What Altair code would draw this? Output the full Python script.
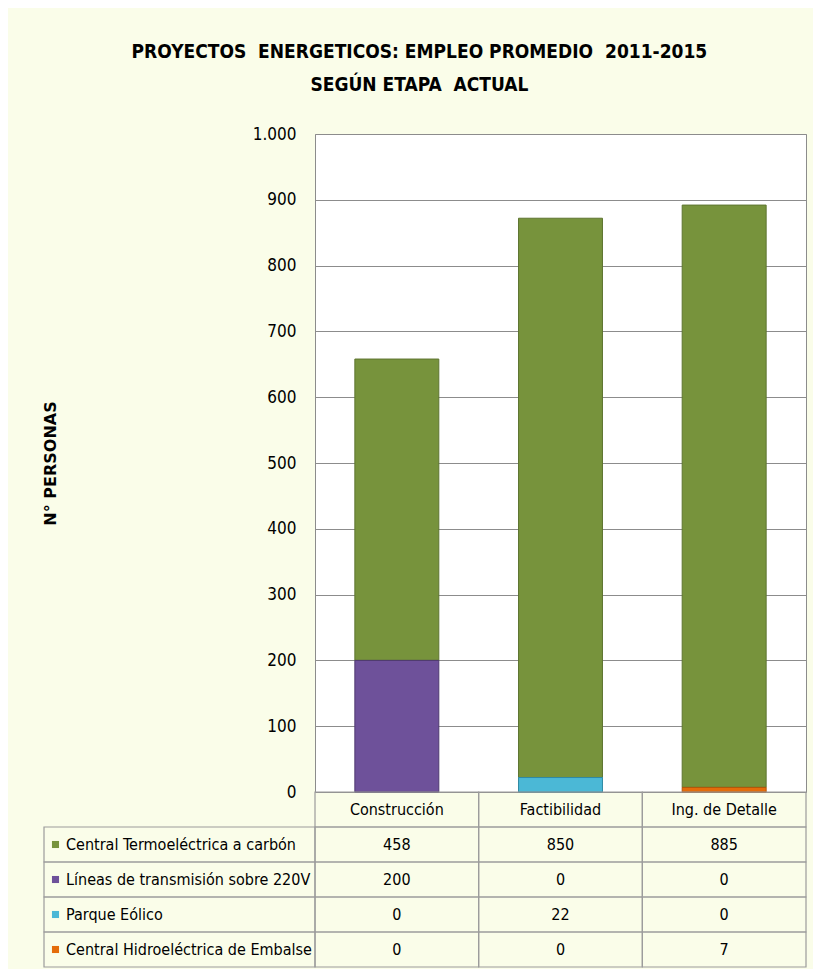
import altair as alt
import pandas as pd

# ---------------- data ----------------
stages = ["Construcción", "Factibilidad", "Ing. de Detalle"]
series = [
    "Central Termoeléctrica a carbón",
    "Líneas de transmisión sobre 220V",
    "Parque Eólico",
    "Central Hidroeléctrica de Embalse",
]
termo = [458, 850, 885]
lineas = [200, 0, 0]
eolico = [0, 22, 0]
hidro = [0, 0, 7]
y_ticks = [0, 100, 200, 300, 400, 500, 600, 700, 800, 900, 1000]
title_lines = ["PROYECTOS \u00a0ENERGETICOS: EMPLEO PROMEDIO \u00a02011-2015", "SEGÚN ETAPA \u00a0ACTUAL"]
y_title = "N° PERSONAS"

fill_colors = ["#77933C", "#6E519A", "#4BB8D6", "#E46C0A"]
edge_colors = ["#5E7530", "#4E3970", "#2F8AA3", "#B35508"]

# ---------------- tables ----------------
values = [termo, lineas, eolico, hidro]
records = []
for i, (s, vals) in enumerate(zip(series, values)):
    for st, v in zip(stages, vals):
        records.append({"serie": s, "etapa": st, "valor": v, "pila": len(series) - 1 - i})
df = pd.DataFrame(records)

cells = [{"fila": "_h", "etapa": st, "texto": st} for st in stages]
for s, vals in zip(series, values):
    for st, v in zip(stages, vals):
        cells.append({"fila": s, "etapa": st, "texto": str(v)})
cells_df = pd.DataFrame(cells)
labels_df = pd.DataFrame({"fila": series, "col": ["serie"] * len(series)})

# ---------------- style ----------------
FONT = "DejaVu Sans Condensed"
GRID = "#8C8C8C"
LINE = "#9C9C9C"
BG = "#FAFDE9"
PLOT_W = 491
PLOT_H = 658
ROW_H = 35
LAB_W = 271

# ---------------- bar chart ----------------
bars = (
    alt.Chart(df)
    .transform_filter("datum.valor > 0")
    .mark_bar(strokeWidth=1)
    .encode(
        x=alt.X("etapa:N", scale=alt.Scale(domain=stages, paddingInner=0.487, paddingOuter=0.2435), axis=None),
        y=alt.Y(
            "valor:Q",
            stack="zero",
            scale=alt.Scale(domain=[0, 1000], nice=False),
            axis=alt.Axis(
                values=y_ticks,
                labelExpr="replace(format(datum.value, ','), ',', '.')",
                labelFont=FONT,
                labelFontSize=17,
                labelColor="#000000",
                labelPadding=19,
                ticks=False,
                domain=False,
                grid=True,
                gridColor=GRID,
                gridWidth=1,
                gridOpacity=1,
                title=y_title,
                titleFont="DejaVu Sans",
                titleFontSize=16,
                titleFontWeight="bold",
                titleColor="#000000",
                titlePadding=194,
            ),
        ),
        color=alt.Color("serie:N", scale=alt.Scale(domain=series, range=fill_colors), legend=None),
        stroke=alt.Stroke("serie:N", scale=alt.Scale(domain=series, range=edge_colors), legend=None),
        order=alt.Order("pila:Q"),
    )
    .properties(width=PLOT_W, height=PLOT_H, view=alt.ViewBackground(fill="white", stroke=GRID))
)

# ---------------- data table ----------------
row_domain = ["_h"] + series
y_row = alt.Y("fila:N", scale=alt.Scale(domain=row_domain, paddingInner=0, paddingOuter=0), axis=None)
x_stage = alt.X("etapa:N", scale=alt.Scale(domain=stages, paddingInner=0, paddingOuter=0), axis=None)
x_lab = alt.X("col:N", scale=alt.Scale(domain=["serie"], range=[-LAB_W, 0], paddingInner=0, paddingOuter=0), axis=None)
x_lab0 = alt.X("col:N", scale=alt.Scale(type="point", domain=["serie"], range=[-LAB_W, 0], padding=0, align=0), axis=None)

cell_rect = alt.Chart(cells_df).mark_rect(fillOpacity=0, stroke=LINE, strokeWidth=1.2).encode(x=x_stage, y=y_row)
cell_text = alt.Chart(cells_df).mark_text(font=FONT, fontSize=16, color="#000000").encode(
    x=x_stage, y=y_row, text="texto:N"
)
lab_rect = alt.Chart(labels_df).mark_rect(fillOpacity=0, stroke=LINE, strokeWidth=1.2).encode(x=x_lab, y=y_row)
lab_sq = alt.Chart(labels_df).mark_square(size=50, filled=True, opacity=1, xOffset=11.5).encode(
    x=x_lab0, y=y_row,
    color=alt.Color("fila:N", scale=alt.Scale(domain=series, range=fill_colors), legend=None),
)
lab_text = alt.Chart(labels_df).mark_text(align="left", dx=22, font=FONT, fontSize=16, color="#000000").encode(
    x=x_lab0, y=y_row, text="fila:N"
)

table = (
    alt.layer(cell_rect, cell_text, lab_rect, lab_sq, lab_text)
    .resolve_scale(x="independent")
    .properties(width=PLOT_W, height=5 * ROW_H, view=alt.ViewBackground(stroke="transparent"))
)

chart = (
    alt.vconcat(bars, table, spacing=0, bounds="flush")
    .resolve_scale(x="independent", y="independent")
    .properties(
        title=alt.TitleParams(
            text=title_lines,
            font=FONT,
            fontSize=19,
            fontWeight="bold",
            color="#000000",
            anchor="middle",
            lineHeight=33,
            offset=30,
            dx=-5,
        ),
        background=BG,
        padding={"left": 33, "top": 34, "right": 5, "bottom": 0},
    )
)

chart.save("out.html", embed_options={"renderer": "svg", "actions": False})
